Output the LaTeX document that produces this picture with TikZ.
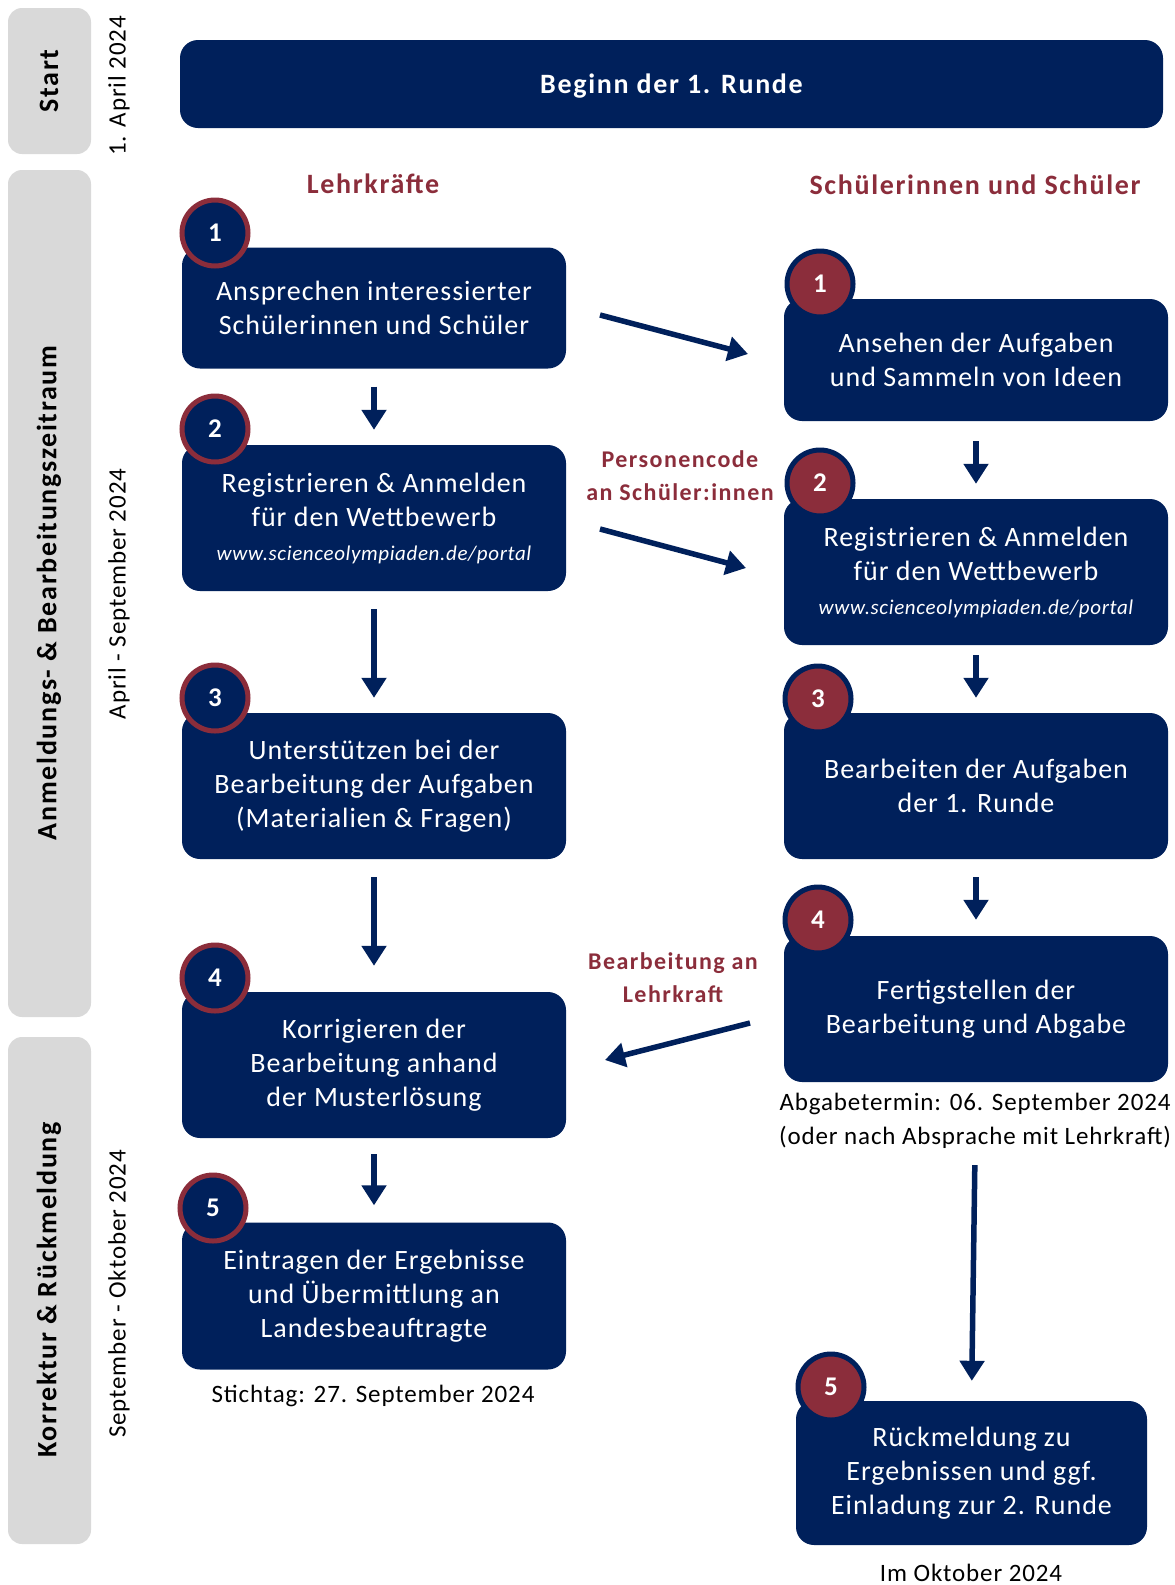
\documentclass[tikz,border=0pt]{standalone}
\usepackage{fontspec}
\setmainfont{Carlito}[UprightFeatures={LetterSpace=3.5},
  BoldFeatures={LetterSpace=6},ItalicFeatures={LetterSpace=3}]
\usetikzlibrary{arrows.meta}
\definecolor{navy}{HTML}{00205B}
\definecolor{wine}{HTML}{8B2D3B}
\definecolor{band}{HTML}{D9D9D9}
\newcommand{\fs}[2]{\fontsize{#1}{#2}\selectfont}
\newcommand{\url}[1]{{\itshape\fs{21}{29}#1}}

\begin{document}
\begin{tikzpicture}[x=1pt,y=-1pt,
  box/.style={fill=navy,rounded corners=18pt,text=white,align=center,
    minimum width=384pt,minimum height=146pt,inner sep=0pt,font=\fs{28}{34}},
  numl/.style={circle,fill=navy,draw=wine,line width=5pt,minimum size=66pt,
    inner sep=0pt,text=white,font=\bfseries\fs{27}{30}},
  numr/.style={numl,fill=wine,draw=navy},
  flow/.style={draw=navy,line width=5.5pt,-{Triangle[width=24pt,length=20pt]}},
  tag/.style={text=wine,align=center,font=\bfseries\fs{24}{33}},
  phase/.style={fill=band,rounded corners=14pt},
  datum/.style={rotate=90,font=\fs{25}{30}},
  note/.style={align=center,font=\fs{25}{34}}]
\useasboundingbox (0,0) rectangle (1175,1585);

% phases on the left
\fill[phase] (8,8) rectangle (91,154);
\fill[phase] (8,170) rectangle (91,1017);
\fill[phase] (8,1037) rectangle (91,1544);
\node[rotate=90,font=\bfseries\fs{28}{34}] (pstart) at (49,81) {Start};
\node[rotate=90,font=\bfseries\fs{28}{34}] (panm) at (49,593) {Anmeldungs- \& Bearbeitungszeitraum};
\node[rotate=90,font=\bfseries\fs{28}{34}] (pkorr) at (49,1290) {Korrektur \& Rückmeldung};
\node[datum] (d1) at (119,86) {1. April 2024};
\node[datum] (d2) at (119,594) {April - September 2024};
\node[datum] (d3) at (119,1294) {September - Oktober 2024};

% start
\node[box,minimum width=983pt,minimum height=88pt,text depth=0pt,font=\bfseries\fs{28}{34}] (beginn) at (671.5,84) {Beginn der 1. Runde};
\node[tag,font=\bfseries\fs{28}{34}] (lk) at (373,184) {Lehrkräfte};
\node[tag,font=\bfseries\fs{28}{34}] (sus) at (975,185) {Schülerinnen und Schüler};

% Lehrkraefte
\node[box,minimum height=121pt] (l1) at (374,308) {Ansprechen interessierter\\Schülerinnen und Schüler};
\node[box] (l2) at (374,518) {Registrieren \& Anmelden\\für den Wettbewerb\\\url{www.scienceolympiaden.de/portal}};
\node[box] (l3) at (374,786) {Unterstützen bei der\\Bearbeitung der Aufgaben\\(Materialien \& Fragen)};
\node[box] (l4) at (374,1065) {Korrigieren der\\Bearbeitung anhand\\der Musterlösung};
\node[box,minimum height=147pt] (l5) at (374,1296) {Eintragen der Ergebnisse\\und Übermittlung an\\Landesbeauftragte};
\node[note] (stich) at (373,1396) {Stichtag: 27. September 2024};

% Schuelerinnen und Schueler
\node[box,minimum height=122pt] (r1) at (976,360) {Ansehen der Aufgaben\\und Sammeln von Ideen};
\node[box] (r2) at (976,572) {Registrieren \& Anmelden\\für den Wettbewerb\\\url{www.scienceolympiaden.de/portal}};
\node[box] (r3) at (976,786) {Bearbeiten der Aufgaben\\der 1. Runde};
\node[box] (r4) at (976,1009) {Fertigstellen der\\Bearbeitung und Abgabe};
\node[note] (abgabe) at (975,1121) {Abgabetermin: 06. September 2024\\(oder nach Absprache mit Lehrkraft)};
\node[box,minimum width=351pt,minimum height=144pt] (r5) at (971.5,1473) {Rückmeldung zu\\Ergebnissen und ggf.\\Einladung zur 2. Runde};
\node[note] (okt) at (971,1573) {Im Oktober 2024};

% numbers
\foreach \n/\y in {1/233,2/429,3/698,4/978}
  \node[numl] (nl\n) at (215,\y) {\n};
\node[numl] (nl5) at (213,1208) {5};
\foreach \n/\x/\y in {1/820/284,2/820/483,3/818/699,4/818/920,5/831/1387}
  \node[numr] (nr\n) at (\x,\y) {\n};

% arrows down
\draw[flow,shorten <=18pt,shorten >=15pt] (l1) -- (l2);
\draw[flow,shorten <=18pt,shorten >=15pt] (l2) -- (l3);
\draw[flow,shorten <=18pt,shorten >=26pt] (l3) -- (l4);
\draw[flow,shorten <=16pt,shorten >=17pt] (l4) -- (l5);
\draw[flow,shorten <=20pt,shorten >=15pt] (r1) -- (r2);
\draw[flow,shorten <=10pt,shorten >=15pt] (r2) -- (r3);
\draw[flow,shorten <=18pt,shorten >=16pt] (r3) -- (r4);
\draw[flow,shorten <=83pt,shorten >=20pt] (r4.south) -- (r5.north);

% arrows across
\coordinate (a1) at (600,315); \coordinate (b1) at (748,354);
\coordinate (a2) at (600,529); \coordinate (b2) at (746,568);
\coordinate (a3) at (750,1023); \coordinate (b3) at (605,1060);
\draw[flow] (a1) -- (b1);
\draw[flow] (a2) -- (b2);
\draw[flow] (a3) -- (b3);
\node[tag] (code) at (680,476) {Personencode\\an Schüler:innen};
\node[tag] (abg) at (673,978) {Bearbeitung an\\Lehrkraft};
\end{tikzpicture}
\end{document}
